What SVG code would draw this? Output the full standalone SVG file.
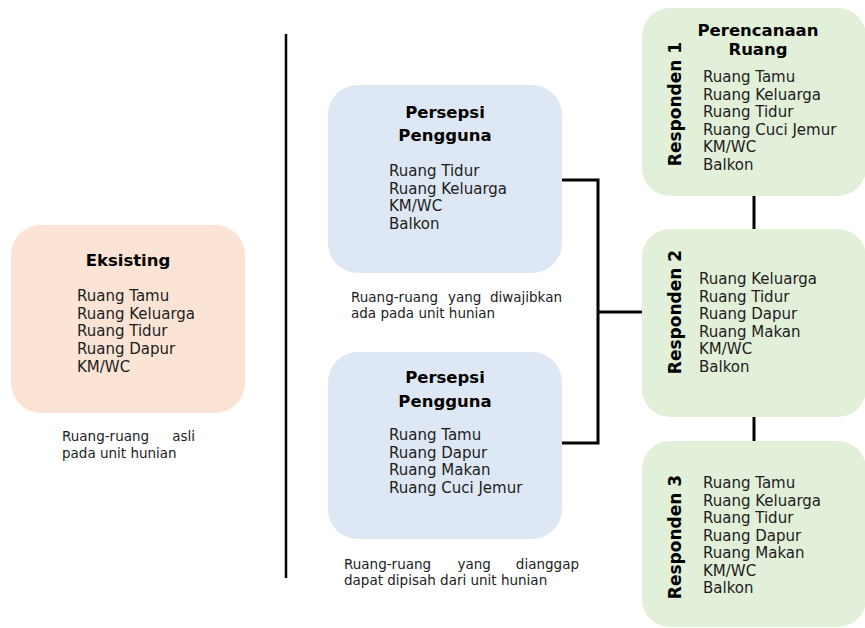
<svg xmlns="http://www.w3.org/2000/svg" width="865" height="628" viewBox="0 0 865 628">
<style>
text{font-family:"DejaVu Sans","Liberation Sans",sans-serif;fill:#1c1c1c}
.t{font-size:16.5px;font-weight:bold;fill:#000;text-anchor:middle}
.r{font-size:17px;font-weight:bold;fill:#000;text-anchor:middle}
.l{font-size:15px}
.c{font-size:13.5px}
.peach{fill:#fbe4d5}
.blue{fill:#dee8f4}
.green{fill:#e2efd9}
.ln{stroke:#000;stroke-width:3;fill:none}
</style>
<rect width="865" height="628" fill="#fff"/>
<g id="connectors">
<line x1="286" y1="34" x2="286" y2="578" stroke="#000" stroke-width="2.5"/>
<polyline class="ln" points="562,180 598,180 598,443 562,443"/>
<line class="ln" x1="598" y1="312" x2="642" y2="312"/>
<line class="ln" x1="754" y1="196" x2="754" y2="229"/>
<line class="ln" x1="754" y1="417" x2="754" y2="441"/>
</g>
<g id="eksisting">
<rect class="peach" x="11" y="225" width="234" height="188" rx="30"/>
<text class="t" x="128" y="266">Eksisting</text>
<text class="l" x="77" y="301">Ruang Tamu</text>
<text class="l" x="77" y="318.7">Ruang Keluarga</text>
<text class="l" x="77" y="336.4">Ruang Tidur</text>
<text class="l" x="77" y="354.1">Ruang Dapur</text>
<text class="l" x="77" y="371.8">KM/WC</text>
</g>
<g id="caption-eksisting">
<text class="c" x="62" y="441">Ruang-ruang</text>
<text class="c" x="195" y="441" text-anchor="end">asli</text>
<text class="c" x="62" y="458">pada unit hunian</text>
</g>
<g id="persepsi-1">
<rect class="blue" x="328" y="85" width="234" height="188" rx="30"/>
<text class="t" x="445" y="118">Persepsi</text>
<text class="t" x="445" y="141">Pengguna</text>
<text class="l" x="389" y="176">Ruang Tidur</text>
<text class="l" x="389" y="193.5">Ruang Keluarga</text>
<text class="l" x="389" y="211">KM/WC</text>
<text class="l" x="389" y="228.5">Balkon</text>
</g>
<g id="caption-persepsi-1">
<text class="c" x="351" y="302">Ruang-ruang</text>
<text class="c" x="448" y="302">yang</text>
<text class="c" x="562" y="302" text-anchor="end">diwajibkan</text>
<text class="c" x="351" y="318">ada pada unit hunian</text>
</g>
<g id="persepsi-2">
<rect class="blue" x="328" y="352" width="234" height="187" rx="30"/>
<text class="t" x="445" y="383">Persepsi</text>
<text class="t" x="445" y="407">Pengguna</text>
<text class="l" x="389" y="440">Ruang Tamu</text>
<text class="l" x="389" y="457.5">Ruang Dapur</text>
<text class="l" x="389" y="475">Ruang Makan</text>
<text class="l" x="389" y="492.5">Ruang Cuci Jemur</text>
</g>
<g id="caption-persepsi-2">
<text class="c" x="344" y="569">Ruang-ruang</text>
<text class="c" x="457.5" y="569">yang</text>
<text class="c" x="579" y="569" text-anchor="end">dianggap</text>
<text class="c" x="344" y="585">dapat dipisah dari unit hunian</text>
</g>
<g id="responden-1">
<rect class="green" x="642" y="8" width="224" height="188" rx="28"/>
<text class="r" transform="translate(681,104) rotate(-90)">Responden 1</text>
<text class="t" x="758" y="36">Perencanaan</text>
<text class="t" x="758" y="55">Ruang</text>
<text class="l" x="703" y="82">Ruang Tamu</text>
<text class="l" x="703" y="99.6">Ruang Keluarga</text>
<text class="l" x="703" y="117.2">Ruang Tidur</text>
<text class="l" x="703" y="134.8">Ruang Cuci Jemur</text>
<text class="l" x="703" y="152.4">KM/WC</text>
<text class="l" x="703" y="170">Balkon</text>
</g>
<g id="responden-2">
<rect class="green" x="642" y="229" width="224" height="188" rx="28"/>
<text class="r" transform="translate(681,312) rotate(-90)">Responden 2</text>
<text class="l" x="699" y="284">Ruang Keluarga</text>
<text class="l" x="699" y="301.6">Ruang Tidur</text>
<text class="l" x="699" y="319.2">Ruang Dapur</text>
<text class="l" x="699" y="336.8">Ruang Makan</text>
<text class="l" x="699" y="354.4">KM/WC</text>
<text class="l" x="699" y="372">Balkon</text>
</g>
<g id="responden-3">
<rect class="green" x="642" y="441" width="224" height="186" rx="28"/>
<text class="r" transform="translate(681,537) rotate(-90)">Responden 3</text>
<text class="l" x="703" y="488">Ruang Tamu</text>
<text class="l" x="703" y="505.5">Ruang Keluarga</text>
<text class="l" x="703" y="523">Ruang Tidur</text>
<text class="l" x="703" y="540.5">Ruang Dapur</text>
<text class="l" x="703" y="558">Ruang Makan</text>
<text class="l" x="703" y="575.5">KM/WC</text>
<text class="l" x="703" y="593">Balkon</text>
</g>
</svg>
